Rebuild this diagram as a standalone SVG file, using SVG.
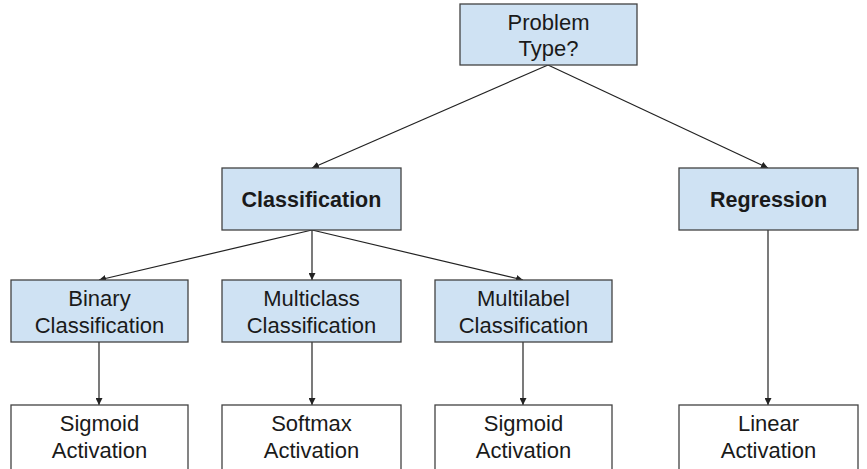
<svg xmlns="http://www.w3.org/2000/svg" width="867" height="469" viewBox="0 0 867 469">
<defs>
<style>
.blue{fill:#cfe2f3;stroke:#434343;stroke-width:1.3}
.white{fill:#ffffff;stroke:#434343;stroke-width:1.3}
text{font-family:"Liberation Sans",Arial,sans-serif;font-size:22px;fill:#1a1a1a;text-anchor:middle}
.b{font-weight:bold;font-size:21.5px}
.c line{stroke:#222;stroke-width:1.2;marker-end:url(#ah)}
</style>
<marker id="ah" viewBox="0 0 10 10" refX="10" refY="5" markerWidth="7" markerHeight="7" markerUnits="userSpaceOnUse" orient="auto">
<path d="M0,0 L10,5 L0,10 z" fill="#222"/>
</marker>
</defs>
<rect width="867" height="469" fill="#ffffff"/>
<g class="c" id="connectors">
<line x1="548" y1="65" x2="312" y2="168"/>
<line x1="548" y1="65" x2="768" y2="168"/>
<line x1="312" y1="230" x2="99" y2="280"/>
<line x1="312" y1="230" x2="312" y2="280"/>
<line x1="312" y1="230" x2="523" y2="280"/>
<line x1="99" y1="342" x2="99" y2="405"/>
<line x1="312" y1="342" x2="312" y2="405"/>
<line x1="523" y1="342" x2="523" y2="405"/>
<line x1="768" y1="230" x2="768" y2="405"/>
</g>
<g id="problem"><rect class="blue" x="460" y="4" width="177" height="61"/><text x="548.5" y="30">Problem</text><text x="548.5" y="56">Type?</text></g>
<g id="classification"><rect class="blue" x="222" y="168" width="179" height="62"/><text class="b" x="311.5" y="207">Classification</text></g>
<g id="regression"><rect class="blue" x="679" y="168" width="179" height="62"/><text class="b" x="768.5" y="207">Regression</text></g>
<g id="binary"><rect class="blue" x="11" y="280" width="177" height="62"/><text x="99.5" y="306">Binary</text><text x="99.5" y="333">Classification</text></g>
<g id="multiclass"><rect class="blue" x="222" y="280" width="179" height="62"/><text x="311.5" y="306">Multiclass</text><text x="311.5" y="333">Classification</text></g>
<g id="multilabel"><rect class="blue" x="435" y="280" width="177" height="62"/><text x="523.5" y="306">Multilabel</text><text x="523.5" y="333">Classification</text></g>
<g id="sigmoid1"><rect class="white" x="11" y="405" width="177" height="70"/><text x="99.5" y="431">Sigmoid</text><text x="99.5" y="458">Activation</text></g>
<g id="softmax"><rect class="white" x="222" y="405" width="179" height="70"/><text x="311.5" y="431">Softmax</text><text x="311.5" y="458">Activation</text></g>
<g id="sigmoid2"><rect class="white" x="435" y="405" width="177" height="70"/><text x="523.5" y="431">Sigmoid</text><text x="523.5" y="458">Activation</text></g>
<g id="linear"><rect class="white" x="679" y="405" width="179" height="70"/><text x="768.5" y="431">Linear</text><text x="768.5" y="458">Activation</text></g>
</svg>
